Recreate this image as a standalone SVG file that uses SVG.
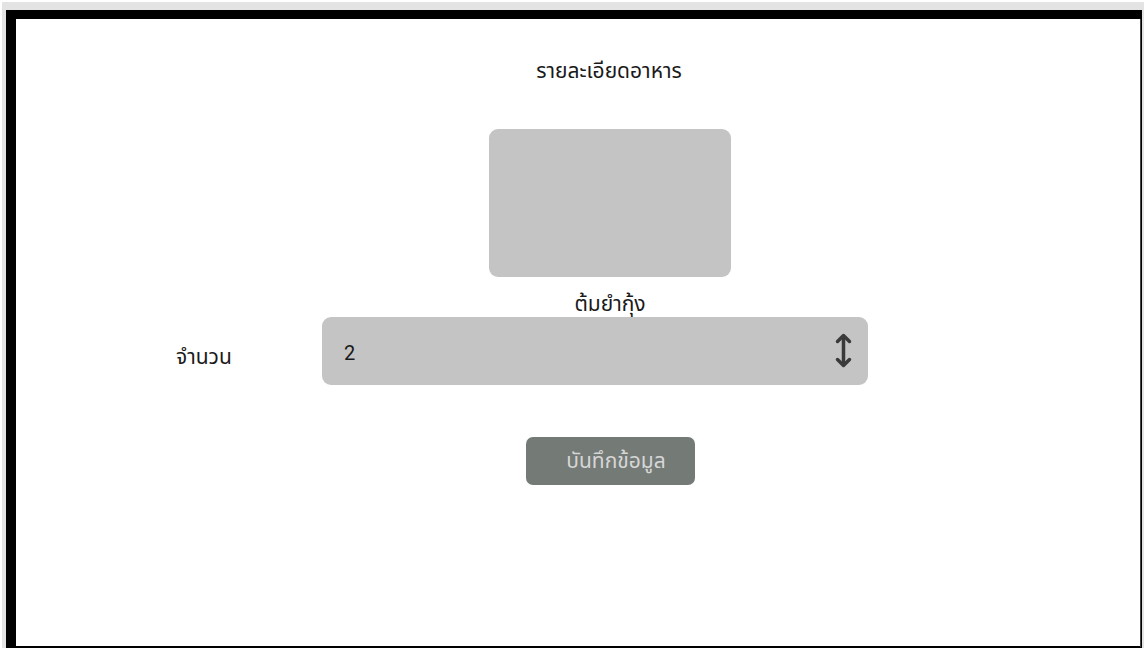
<svg xmlns="http://www.w3.org/2000/svg" width="1144" height="648" viewBox="0 0 1144 648">
  <style>
    .t { font-family: "Noto Sans Thai", "Noto Sans", "Liberation Sans", sans-serif; font-size: 21px; fill: #1a1a1a; }
    .box { fill: #c4c4c4; }
  </style>
  <rect x="0" y="0" width="1144" height="648" fill="#ffffff"/>
  <g id="frame">
    <rect x="2" y="2" width="1142" height="646" fill="#e3e3e3"/>
    <rect x="6" y="10" width="1136" height="638" fill="#000000"/>
    <rect x="16" y="19" width="1124" height="627" fill="#ffffff"/>
    <rect x="1140" y="19" width="1" height="628" fill="#444"/>
  </g>
  <g id="title">
    <text class="t" x="609" y="78" text-anchor="middle">รายละเอียดอาหาร</text>
  </g>
  <g id="image">
    <rect class="box" x="489" y="129" width="242" height="148" rx="9"/>
  </g>
  <g id="food-name">
    <text class="t" x="610" y="311" text-anchor="middle">ต้มยำกุ้ง</text>
  </g>
  <g id="qty-label">
    <text class="t" x="176" y="364">จำนวน</text>
  </g>
  <g id="qty-input">
    <rect class="box" x="322" y="317" width="546" height="68" rx="9"/>
    <text x="344" y="360" style="font-family: Roboto, 'Liberation Sans', sans-serif; font-size: 20px; fill: #1a1a1a;">2</text>
    <g fill="none" stroke="#3a3a3a" stroke-width="3.5" stroke-linecap="round" stroke-linejoin="round">
      <path d="M843.5 337 V364"/>
      <path d="M837.5 341.5 L843.5 335.5 L849.5 341.5"/>
      <path d="M837.5 359.5 L843.5 365.5 L849.5 359.5"/>
    </g>
  </g>
  <g id="save-button">
    <rect x="526" y="437" width="169" height="48" rx="7" fill="#747a76"/>
    <text x="616" y="468" text-anchor="middle" style="font-family: 'Noto Sans Thai', 'Noto Sans', 'Liberation Sans', sans-serif; font-size: 21px; fill: #d6d6d6;">บันทึกข้อมูล</text>
  </g>
</svg>
